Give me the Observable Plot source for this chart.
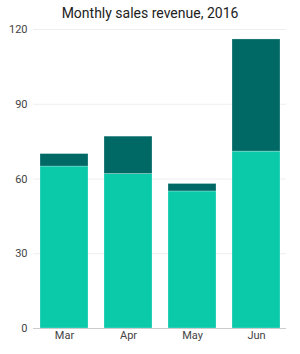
<!DOCTYPE html>
<html>
<head>
<meta charset="utf-8">
<script src="https://cdn.jsdelivr.net/npm/d3@7"></script>
<script src="https://cdn.jsdelivr.net/npm/@observablehq/plot@0.6"></script>
<style>
body { margin: 0; background: #fff; font-family: Roboto, "Liberation Sans", sans-serif; }
#title { height: 20px; line-height: 26px; text-align: center; font-size: 14px; color: #222; white-space: nowrap; }
#chart svg { display: block; }
</style>
</head>
<body>
<div id="title">Monthly sales revenue, 2016</div>
<div id="chart"></div>
<script>
const months = ["Mar", "Apr", "May", "Jun"];
const baseValues = [65, 62, 55, 71];
const topValues = [5, 15, 3, 45];
const seriesNames = ["Base", "Extra"];
const yTicks = [0, 30, 60, 90, 120];

const rows = [];
months.forEach((m, i) => {
  rows.push({month: m, series: seriesNames[0], value: baseValues[i]});
  rows.push({month: m, series: seriesNames[1], value: topValues[i]});
});

const chart = Plot.plot({
  width: 300,
  height: 334,
  marginTop: 9,
  marginBottom: 26,
  marginLeft: 33,
  marginRight: 14,
  style: {fontFamily: "Roboto, 'Liberation Sans', sans-serif", fontSize: "11px", color: "#444"},
  x: {domain: months, paddingInner: 0.25, paddingOuter: 0.1, label: null, tickSize: 0, tickPadding: 3},
  y: {domain: [0, 120], ticks: yTicks, label: null, tickSize: 0, tickPadding: 6},
  color: {domain: seriesNames, range: ["#0acaaa", "#006966"]},
  marks: [
    Plot.gridY(yTicks, {stroke: "#eeeeee", strokeOpacity: 1}),
    Plot.barY(rows, Plot.stackY({x: "month", y: "value", fill: "series", order: seriesNames, stroke: "#ffffff", strokeOpacity: 0.35, strokeWidth: 0.7})),
    Plot.ruleY([0], {stroke: "#cccccc"})
  ]
});
document.getElementById("chart").appendChild(chart);
</script>
</body>
</html>
